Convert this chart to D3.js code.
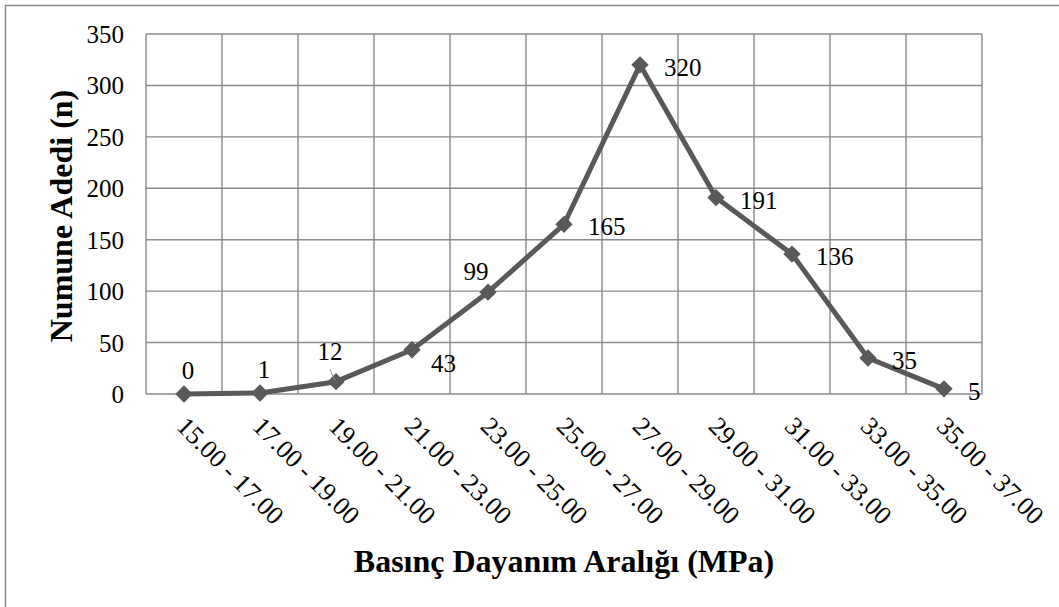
<!DOCTYPE html>
<html>
<head>
<meta charset="utf-8">
<script src="https://cdn.jsdelivr.net/npm/d3@7"></script>
<style>
  html, body { margin: 0; padding: 0; background: #fff; }
  svg { display: block; }
  text { font-family: "Liberation Serif", "Times New Roman", serif; fill: #000; }
</style>
</head>
<body>
<svg id="chart" width="1059" height="607"></svg>
<script>
// Strength ranges (MPa) and specimen counts per range
const categories = ["15.00 - 17.00", "17.00 - 19.00", "19.00 - 21.00", "21.00 - 23.00",
  "23.00 - 25.00", "25.00 - 27.00", "27.00 - 29.00", "29.00 - 31.00",
  "31.00 - 33.00", "33.00 - 35.00", "35.00 - 37.00"];
const counts = [0, 1, 12, 43, 99, 165, 320, 191, 136, 35, 5];
const yTicks = [0, 50, 100, 150, 200, 250, 300, 350];
const xTitle = "Basınç Dayanım Aralığı (MPa)";
const yTitle = "Numune Adedi (n)";

const svg = d3.select("#chart");
const W = 1059, H = 607;
const plot = { left: 146, top: 34, right: 982, bottom: 394 };
const gridColor = "#8a8a8a";

// Outer chart frame (extends past the visible area on the right and bottom)
svg.append("rect")
  .attr("x", 5.5).attr("y", 5.5)
  .attr("width", W + 20).attr("height", H + 20)
  .attr("fill", "#fff").attr("stroke", gridColor).attr("stroke-width", 1.5);

const x = d3.scaleBand().domain(categories).range([plot.left, plot.right]).padding(0);
const y = d3.scaleLinear().domain([0, 350]).range([plot.bottom, plot.top]);
const cx = d => x(d) + x.bandwidth() / 2;

const grid = svg.append("g").attr("stroke", gridColor).attr("stroke-width", 1.4);
// horizontal gridlines
grid.selectAll("line.h").data(yTicks).join("line")
  .attr("x1", plot.left).attr("x2", plot.right)
  .attr("y1", d => y(d)).attr("y2", d => y(d));
// vertical gridlines at category boundaries
const bounds = categories.map(c => x(c)).concat([plot.right]);
grid.selectAll("line.v").data(bounds).join("line")
  .attr("x1", d => d).attr("x2", d => d)
  .attr("y1", plot.top).attr("y2", plot.bottom);

// Y axis tick labels
const yAxis = d3.axisLeft(y).tickValues(yTicks).tickSize(0).tickPadding(22);
const gy = svg.append("g").attr("transform", `translate(${plot.left},0)`).call(yAxis);
gy.select(".domain").remove();
gy.selectAll("text").attr("font-size", 25).attr("fill", "#000").attr("dy", "0.34em");

// X axis tick labels, rotated 45°
const xAxis = d3.axisBottom(x).tickSize(0);
const gx = svg.append("g").attr("transform", `translate(0,${plot.bottom})`).call(xAxis);
gx.select(".domain").remove();
gx.selectAll("text")
  .attr("font-size", 26).attr("fill", "#000")
  .attr("text-anchor", "start")
  .attr("x", 0).attr("y", 0).attr("dy", "0.7em")
  .attr("transform", "translate(4,21) rotate(45)");

// Axis titles
svg.append("text")
  .attr("x", (plot.left + plot.right) / 2).attr("y", 572)
  .attr("text-anchor", "middle").attr("font-size", 32).attr("font-weight", "bold")
  .text(xTitle);
svg.append("text")
  .attr("transform", `translate(72,${(plot.top + plot.bottom) / 2 + 2}) rotate(-90)`)
  .attr("text-anchor", "middle").attr("font-size", 32).attr("font-weight", "bold")
  .text(yTitle);

// Series line
const lineColor = "#595959";
const line = d3.line().x((d, i) => cx(categories[i])).y(d => y(d));
svg.append("path").datum(counts)
  .attr("d", line).attr("fill", "none")
  .attr("stroke", lineColor).attr("stroke-width", 5).attr("stroke-linejoin", "round");

// Diamond markers
const diamond = d3.symbol().type(d3.symbolSquare).size(150);
svg.selectAll("path.marker").data(counts).join("path")
  .attr("class", "marker")
  .attr("d", diamond)
  .attr("fill", lineColor)
  .attr("transform", (d, i) => `translate(${cx(categories[i])},${y(d)}) rotate(45)`);

// Data labels: most sit to the right of the point, a few above it
const labelPlace = ["above", "above", "aboveLeft", "rightLow", "aboveLeft", "right",
  "right", "right", "right", "right", "right"];
const labels = svg.append("g");
counts.forEach((v, i) => {
  const px = cx(categories[i]), py = y(v);
  const t = labels.append("text").text(v).attr("font-size", 25);
  switch (labelPlace[i]) {
    case "above":
      t.attr("x", px + 4).attr("y", py - 15).attr("text-anchor", "middle");
      break;
    case "aboveLeft":
      if (i === 2) {
        t.attr("x", px - 6).attr("y", py - 22).attr("text-anchor", "middle");
        // leader line from the label down to its point
        svg.append("line").attr("x1", px - 6).attr("y1", py - 12).attr("x2", px - 1).attr("y2", py - 1)
          .attr("stroke", gridColor).attr("stroke-width", 1);
      } else {
        t.attr("x", px - 12).attr("y", py - 12).attr("text-anchor", "middle");
      }
      break;
    case "rightLow":
      t.attr("x", px + 19).attr("y", py + 22).attr("text-anchor", "start");
      break;
    default:
      t.attr("x", px + 24).attr("y", py + 11).attr("text-anchor", "start");
  }
});
</script>
</body>
</html>
